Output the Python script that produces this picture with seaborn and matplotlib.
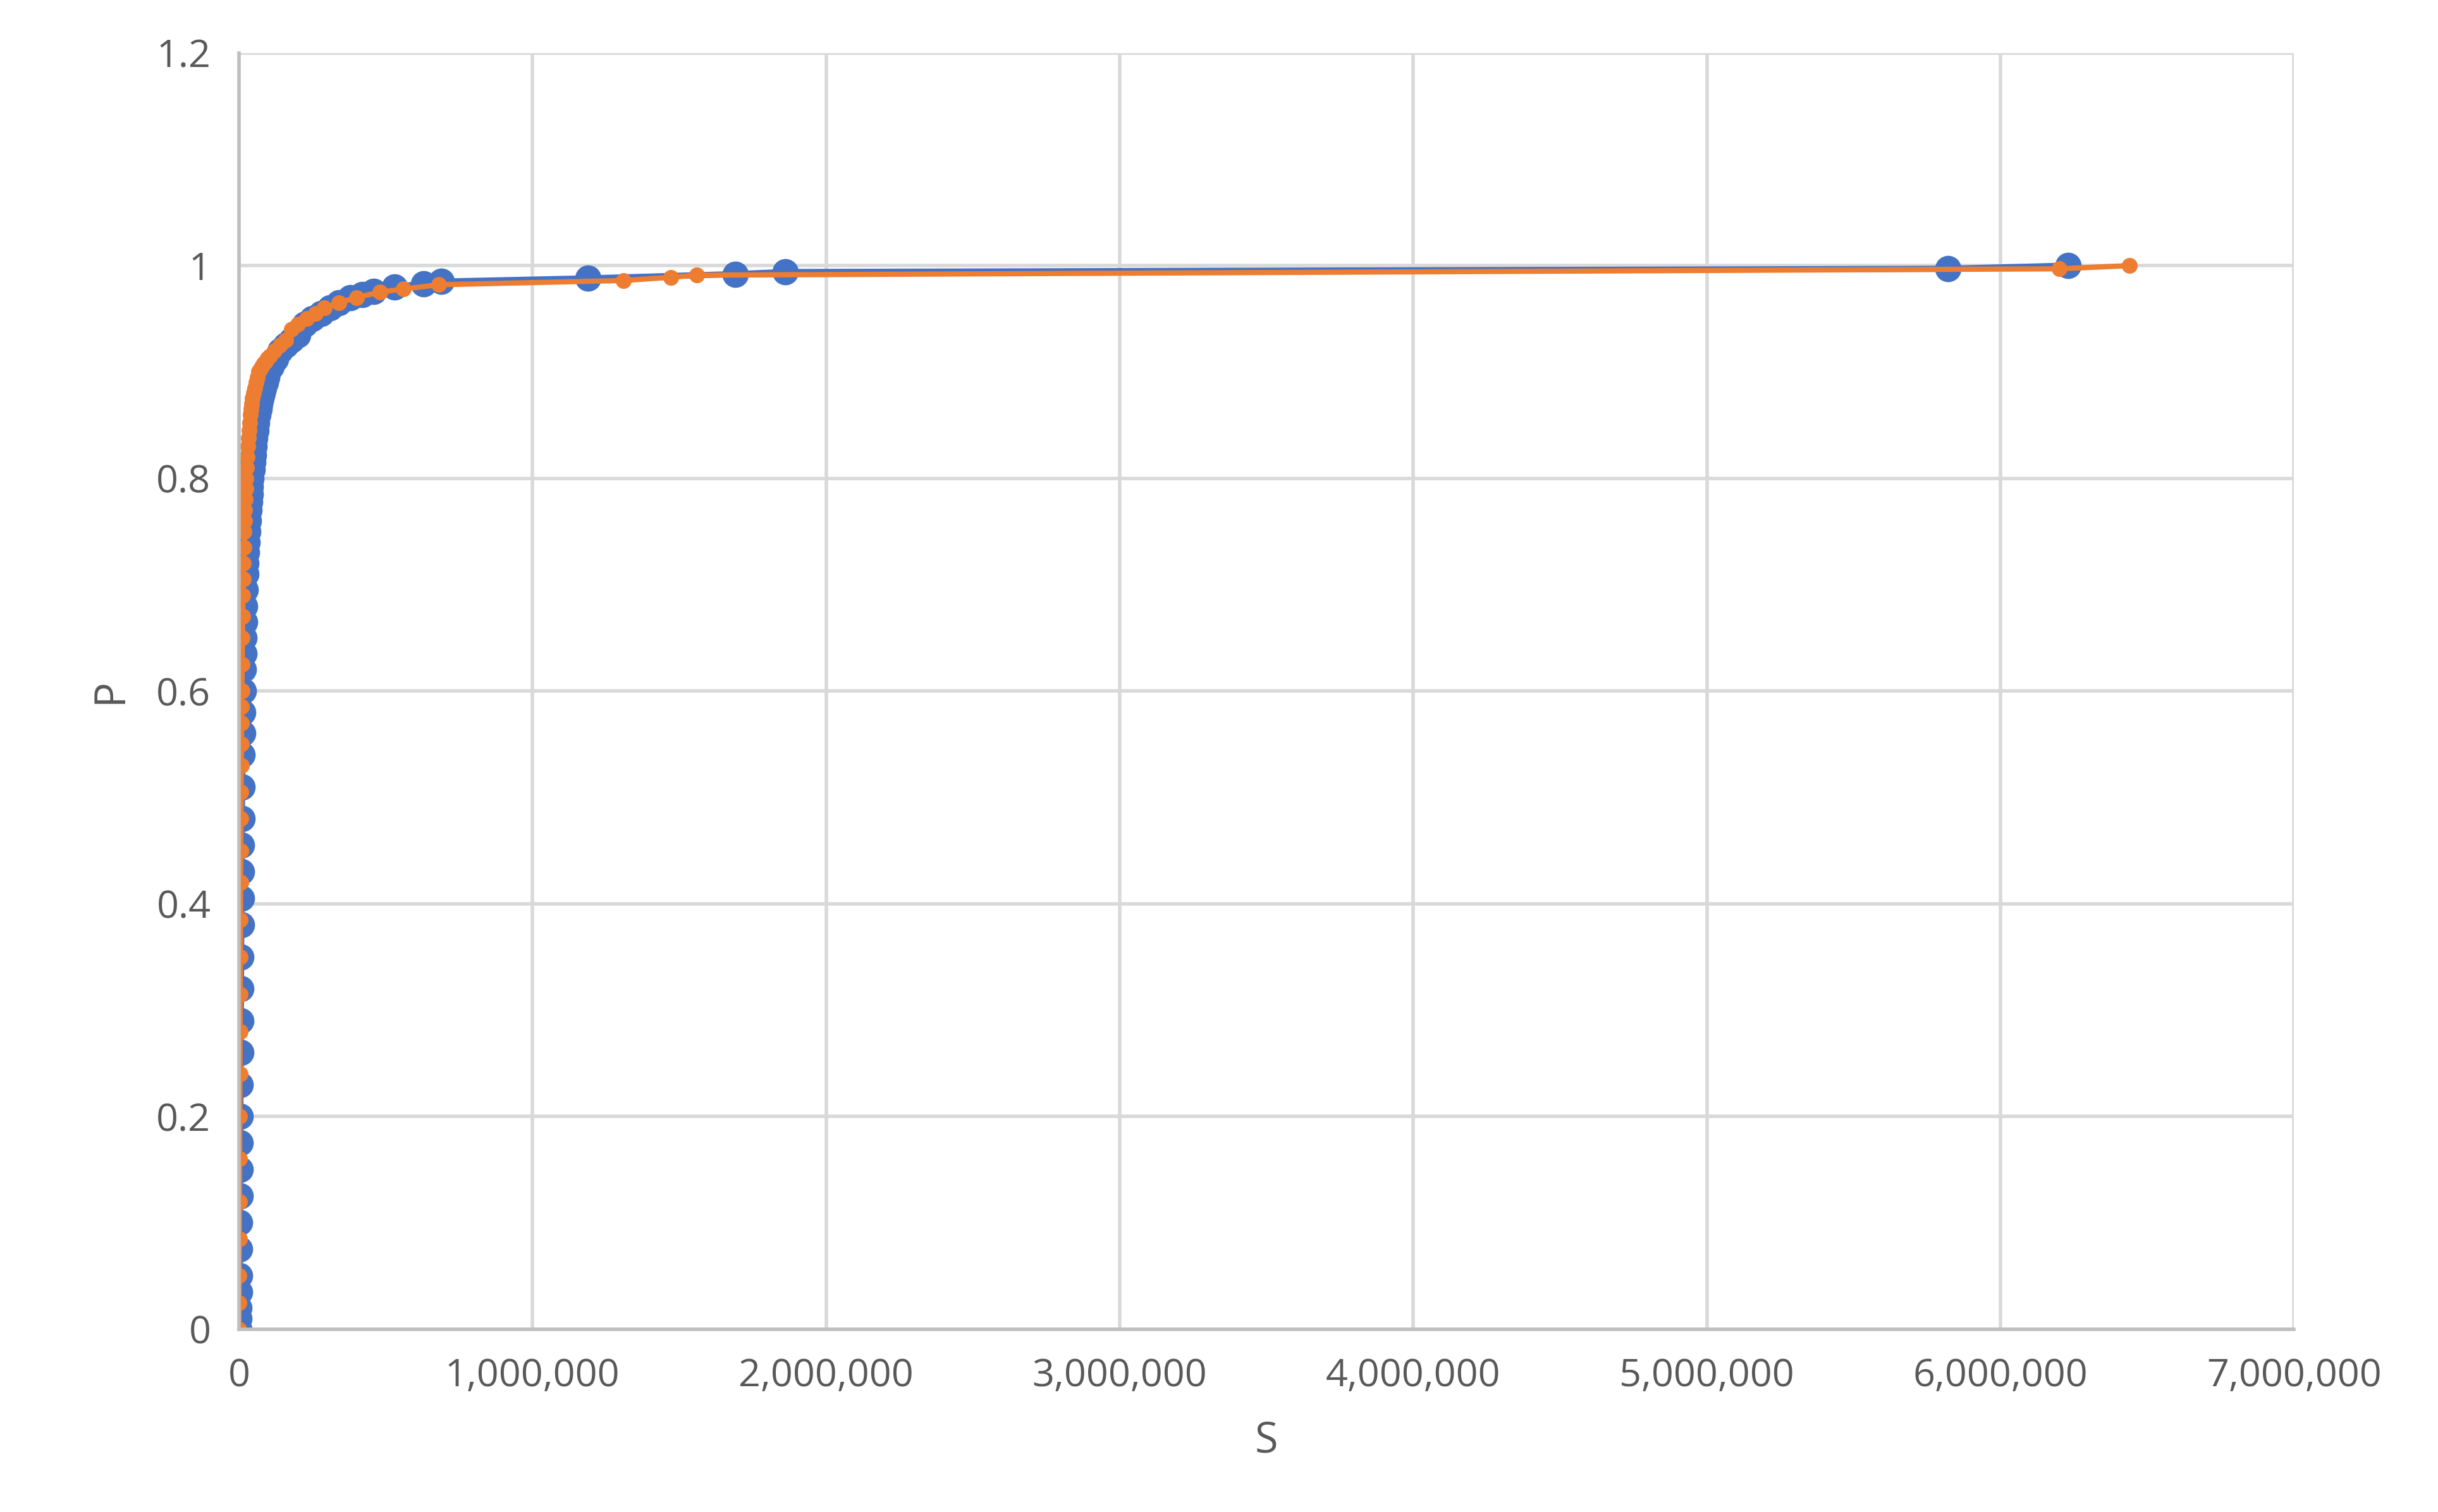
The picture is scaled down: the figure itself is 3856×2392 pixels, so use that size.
import numpy as np
import pandas as pd
import matplotlib
matplotlib.use("Agg")
import matplotlib.pyplot as plt
import matplotlib.ticker as mticker
import seaborn as sns

sns.set_theme(style="whitegrid")
plt.rcParams["font.family"] = ["Open Sans", "DejaVu Sans"]

# series 1 (blue), S in thousands
s_blue = [0, 0.5, 1, 1.5, 2, 2.5, 3, 3.5, 4, 4.5, 5, 5.5, 6, 6.5, 7, 7.5, 8, 8.5, 9, 9.5,
          10, 11, 12, 13, 14, 15, 16, 17, 18, 19, 20, 21.5, 23, 24.5, 26, 28, 30, 32, 34, 36,
          38, 40, 42, 44.5, 47, 49.5, 52, 55, 58, 61.5, 65, 68.5, 72, 76, 80, 85, 90, 95, 100, 110,
          125, 140, 160, 180, 200, 225, 250, 280, 310, 340, 380, 420, 460, 530, 630, 690, 1190, 1690, 1860, 5820,
          6230]
p_blue = [0, 0.01, 0.02, 0.035, 0.05, 0.075, 0.1, 0.125, 0.15, 0.175, 0.2, 0.23, 0.26, 0.29, 0.32, 0.35, 0.38, 0.405, 0.43, 0.455,
          0.48, 0.51, 0.54, 0.56, 0.58, 0.6, 0.62, 0.635, 0.65, 0.665, 0.68, 0.695, 0.71, 0.72, 0.73, 0.74, 0.75, 0.76, 0.77, 0.778,
          0.785, 0.792, 0.8, 0.808, 0.815, 0.822, 0.83, 0.838, 0.845, 0.852, 0.86, 0.865, 0.87, 0.875, 0.88, 0.885, 0.89, 0.895, 0.9, 0.905,
          0.912, 0.92, 0.925, 0.93, 0.935, 0.945, 0.95, 0.955, 0.96, 0.965, 0.97, 0.973, 0.976, 0.98, 0.983, 0.985, 0.988, 0.992, 0.994, 0.997,
          1.0]

# series 2 (orange), S in thousands
s_orange = [0, 0.5, 1, 1.5, 2, 2.5, 3, 3.5, 4, 4.5, 5, 5.5, 6, 6.5, 7, 7.5, 8, 8.5, 9, 9.5,
            10, 11, 12, 13, 14, 15, 16, 17, 18, 19, 20, 21.5, 23, 24.5, 26, 28, 30, 32, 34, 36,
            38, 40.5, 43, 46.5, 50, 54, 58, 62.5, 67, 72, 77, 83.5, 90, 97.5, 105, 120, 140, 160, 180, 200,
            230, 260, 290, 340, 400, 480, 560, 680, 1310, 1470, 1560, 6200, 6440]
p_orange = [0, 0.025, 0.05, 0.085, 0.12, 0.16, 0.2, 0.24, 0.28, 0.315, 0.35, 0.385, 0.42, 0.45, 0.48, 0.505, 0.53, 0.55, 0.57, 0.585,
            0.6, 0.625, 0.65, 0.67, 0.69, 0.705, 0.72, 0.735, 0.75, 0.76, 0.77, 0.78, 0.79, 0.8, 0.81, 0.82, 0.83, 0.838, 0.845, 0.852,
            0.86, 0.865, 0.87, 0.875, 0.88, 0.885, 0.89, 0.895, 0.9, 0.902, 0.905, 0.908, 0.91, 0.913, 0.915, 0.92, 0.925, 0.93, 0.94, 0.945,
            0.95, 0.955, 0.96, 0.965, 0.97, 0.975, 0.978, 0.982, 0.986, 0.989, 0.991, 0.997, 1.0]

blue = pd.DataFrame({"S": np.array(s_blue) * 1000, "P": p_blue})
orange = pd.DataFrame({"S": np.array(s_orange) * 1000, "P": p_orange})

fig = plt.figure(figsize=(19.28, 11.96), dpi=200)
ax = fig.add_axes([0.098, 0.121, 0.843, 0.844])

sns.lineplot(data=blue, x="S", y="P", ax=ax, sort=False, estimator=None, color="#4472C4",
             linewidth=3.5, marker="o", markersize=15, markeredgewidth=0)
sns.lineplot(data=orange, x="S", y="P", ax=ax, sort=False, estimator=None, color="#ED7D31",
             linewidth=3, marker="o", markersize=9, markeredgewidth=0)

ax.set_xlim(0, 7_000_000)
ax.set_ylim(0, 1.2)
ax.set_xticks(np.arange(0, 7_000_001, 1_000_000))
ax.set_yticks(np.arange(0, 1.21, 0.2))
ax.xaxis.set_major_formatter(mticker.FuncFormatter(lambda v, p: f"{int(v):,}"))
ax.yaxis.set_major_formatter(mticker.FuncFormatter(lambda v, p: f"{v:g}"))
ax.grid(True, color="#D9D9D9", linewidth=2)
for side in ["top", "right"]:
    ax.spines[side].set_visible(False)
for side in ["left", "bottom"]:
    ax.spines[side].set_color("#BFBFBF")
    ax.spines[side].set_linewidth(2)
ax.tick_params(labelsize=22, colors="#595959", pad=10)
ax.set_xlabel("S", fontsize=24, color="#595959", labelpad=14)
ax.set_ylabel("P", fontsize=24, color="#595959", labelpad=14)

fig.savefig("out.png", dpi=200, facecolor="white")
